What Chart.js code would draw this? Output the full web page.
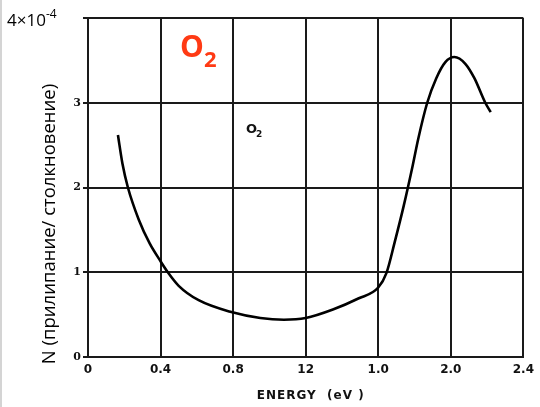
<!DOCTYPE html>
<html>
<head>
<meta charset="utf-8">
<script src="https://cdn.jsdelivr.net/npm/chart.js@4.4.1/dist/chart.umd.min.js"></script>
<style>
    html, body { margin: 0; padding: 0; background: #fff; }
    #wrap { width: 540px; height: 407px; position: relative; }
</style>
</head>
<body>
<div id="wrap"><canvas id="attachChart" width="540" height="407"></canvas></div>
<script>
// Attachment probability per collision for O2 vs electron energy
const energy = [0.165, 0.19, 0.22, 0.28, 0.34, 0.4, 0.44, 0.5, 0.61, 0.79, 0.95, 1.08, 1.2, 1.35, 1.49, 1.6, 1.645, 1.69, 1.74, 1.79, 1.82, 1.87, 1.92, 1.97, 2.02, 2.08, 2.13, 2.19, 2.22];
const attach = [2.62, 2.28, 2.0, 1.62, 1.34, 1.13, 1.0, 0.84, 0.67, 0.53, 0.46, 0.44, 0.46, 0.56, 0.69, 0.82, 0.99, 1.35, 1.78, 2.26, 2.57, 3.0, 3.29, 3.48, 3.54, 3.46, 3.29, 3.0, 2.89];

// Tick labels as printed on the axis
const xTickLabels = ['0', '0.4', '0.8', '12', '1.0', '2.0', '2.4'];
const yTickLabels = ['0', '1', '2', '3', ''];

const gridColor = '#1a1a1a';

// Extra text: exponent label, red O2 caption, in-plot label, axis titles
const annotations = {
    id: 'annotations',
    afterDraw(chart) {
        const ctx = chart.ctx;
        const area = chart.chartArea;
        ctx.save();

        // light frame on the left edge
        ctx.fillStyle = '#d4d4d4';
        ctx.fillRect(0, 0, 2, 407);

        // 4x10^-4 at top of y axis
        ctx.fillStyle = '#000';
        ctx.textBaseline = 'alphabetic';
        ctx.font = '17px "Open Sans"';
        ctx.textAlign = 'left';
        ctx.fillText('4×10', 7, 26);
        const w = ctx.measureText('4×10').width;
        ctx.font = '12px "Open Sans"';
        ctx.fillText('-4', 7 + w, 18);

        // red O2 caption
        ctx.fillStyle = '#ff3a14';
        ctx.font = 'bold 30px "Open Sans"';
        ctx.fillText('O', 180, 57);
        const ow = ctx.measureText('O').width;
        ctx.font = 'bold 22px "Open Sans"';
        ctx.fillText('2', 180 + ow, 67);

        // small O2 label inside the plot
        ctx.fillStyle = '#111';
        ctx.font = 'bold 13px "DejaVu Sans"';
        ctx.fillText('O', 246, 133);
        ctx.font = 'bold 9px "DejaVu Sans"';
        ctx.fillText('2', 256, 137);

        // y axis title
        ctx.fillStyle = '#000';
        ctx.font = '18.5px "Open Sans"';
        ctx.translate(55, 224);
        ctx.rotate(-Math.PI / 2);
        ctx.textAlign = 'center';
        ctx.fillText('N (прилипание/ столкновение)', 0, 0);
        ctx.restore();

        // x axis title
        ctx.save();
        ctx.fillStyle = '#111';
        ctx.font = 'bold 12px "DejaVu Sans"';
        ctx.letterSpacing = '1px';
        ctx.textAlign = 'center';
        ctx.fillText('ENERGY  (eV )', (area.left + area.right) / 2 + 5, 399);
        ctx.restore();
    }
};

function createChart() {
    const ctx = document.getElementById('attachChart').getContext('2d');
    new Chart(ctx, {
        type: 'line',
        data: {
            datasets: [{
                data: energy.map((x, i) => ({ x: x, y: attach[i] })),
                borderColor: '#000',
                borderWidth: 2.6,
                pointRadius: 0,
                cubicInterpolationMode: 'monotone',
                fill: false
            }]
        },
        options: {
            responsive: false,
            animation: false,
            layout: { padding: { left: 0, right: 10, top: 18, bottom: 0 } },
            plugins: {
                legend: { display: false },
                tooltip: { enabled: false }
            },
            scales: {
                x: {
                    type: 'linear',
                    min: 0,
                    max: 2.4,
                    afterFit: (scale) => { scale.height = 50; },
                    border: { color: gridColor, width: 2 },
                    grid: { color: gridColor, lineWidth: 2, drawTicks: false },
                    ticks: {
                        stepSize: 0.4,
                        padding: 6,
                        maxRotation: 0,
                        color: '#111',
                        font: { family: 'DejaVu Sans', size: 12, weight: 'bold' },
                        callback: (value, index) => xTickLabels[index]
                    }
                },
                y: {
                    min: 0,
                    max: 4,
                    afterFit: (scale) => { scale.width = 88; },
                    border: { color: gridColor, width: 2 },
                    grid: { color: gridColor, lineWidth: 2, tickLength: 5 },
                    ticks: {
                        stepSize: 1,
                        padding: 2,
                        color: '#111',
                        font: { family: 'DejaVu Serif', size: 11, weight: 'bold' },
                        callback: (value, index) => yTickLabels[index]
                    }
                }
            }
        },
        plugins: [annotations]
    });
}

document.addEventListener('DOMContentLoaded', () => {
    createChart();
});
</script>
</body>
</html>
